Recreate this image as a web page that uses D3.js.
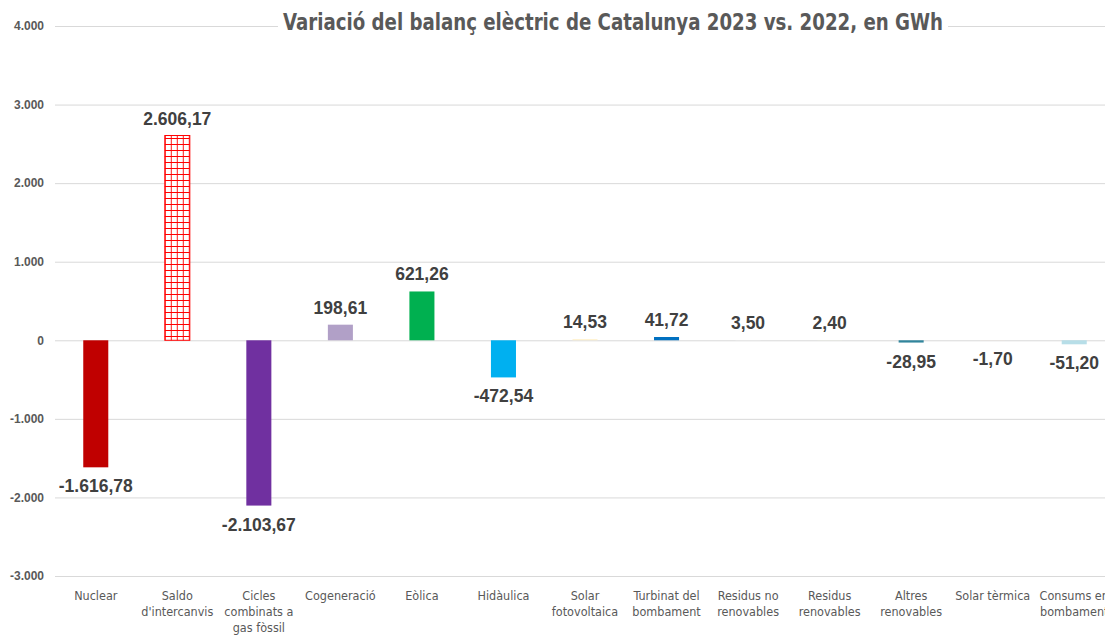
<!DOCTYPE html>
<html>
<head>
<meta charset="utf-8">
<style>
  body { margin: 0; background: #fff; }
  svg { display: block; }
</style>
</head>
<body>
<svg width="1105" height="636"></svg>
<script src="https://cdn.jsdelivr.net/npm/d3@7"></script>
<script>

// categories (line breaks as shown under the axis)
var categories = [
  "Nuclear",
  "Saldo\nd'intercanvis",
  "Cicles\ncombinats a\ngas fòssil",
  "Cogeneració",
  "Eòlica",
  "Hidàulica",
  "Solar\nfotovoltaica",
  "Turbinat del\nbombament",
  "Residus no\nrenovables",
  "Residus\nrenovables",
  "Altres\nrenovables",
  "Solar tèrmica",
  "Consums en\nbombament"
];

// variation 2023 vs 2022, GWh
var values = [-1616.78, 2606.17, -2103.67, 198.61, 621.26, -472.54, 14.53, 41.72, 3.50, 2.40, -28.95, -1.70, -51.20];

var colors = ["#C00000", "url(#grid)", "#7030A0", "#B1A0C7", "#00B050", "#00B0F0", "#FFF2CC",
              "#0070C0", "#F2F2F2", "#EBF1DE", "#31859C", "#FDE9D9", "#B7DEE8"];

var yTicks = [-3000, -2000, -1000, 0, 1000, 2000, 3000, 4000];

var title = "Variació del balanç elèctric de Catalunya 2023 vs. 2022, en GWh";

var svg = d3.select("svg"),
    width = +svg.attr("width"),
    height = +svg.attr("height");

var ca = d3.formatLocale({decimal: ",", thousands: ".", grouping: [3], currency: ["", " €"], minus: "-"});
var fmtVal = ca.format(",.2f"),
    fmtTick = ca.format(",d");

var narrow = "'DejaVu Sans Condensed', 'DejaVu Sans', sans-serif";

var x = d3.scaleBand()
    .domain(categories)
    .range([55, 1115])
    .paddingInner(0.693)
    .paddingOuter(0.3465);

var y = d3.scaleLinear()
    .domain([-3000, 4000])
    .range([576, 26]);

// red grid pattern for the exchange balance
var defs = svg.append("defs");
var pat = defs.append("pattern")
    .attr("id", "grid")
    .attr("patternUnits", "userSpaceOnUse")
    .attr("x", x(categories[1]))
    .attr("y", 0)
    .attr("width", 6)
    .attr("height", 6);
pat.append("rect").attr("width", 6).attr("height", 6).attr("fill", "#fff");
pat.append("path").attr("d", "M0,0V6M0,0H6").attr("stroke", "#FF0000").attr("stroke-width", 1.8);

// gridlines + y labels
var yAxis = svg.append("g")
    .attr("transform", "translate(55,0)")
    .call(d3.axisLeft(y).tickValues(yTicks).tickFormat(fmtTick).tickSize(-1060).tickPadding(11));
yAxis.select(".domain").remove();
yAxis.selectAll(".tick line").attr("stroke", "#D9D9D9").attr("stroke-width", 1);
yAxis.selectAll(".tick text")
    .attr("fill", "#595959")
    .attr("font-family", "Liberation Sans, Arial, sans-serif")
    .attr("font-size", 12)
    .attr("font-weight", "bold");

// bars
svg.selectAll(".bar")
    .data(values)
  .enter().append("rect")
    .attr("class", "bar")
    .attr("x", function(d, i) { return x(categories[i]); })
    .attr("width", x.bandwidth())
    .attr("y", function(d) { return y(Math.max(0, d)); })
    .attr("height", function(d) { return Math.abs(y(d) - y(0)); })
    .attr("fill", function(d, i) { return colors[i]; })
    .attr("stroke", function(d, i) { return i === 1 ? "#FF0000" : "none"; })
    .attr("stroke-width", 1);

// value labels
svg.selectAll(".val")
    .data(values)
  .enter().append("text")
    .attr("class", "val")
    .attr("x", function(d, i) { return x(categories[i]) + x.bandwidth() / 2; })
    .attr("y", function(d) { return d >= 0 ? y(d) - 11 : y(d) + 25; })
    .attr("text-anchor", "middle")
    .attr("font-family", "Liberation Sans, Arial, sans-serif")
    .attr("font-size", 17.5)
    .attr("font-weight", "bold")
    .attr("fill", "#404040")
    .text(function(d) { return fmtVal(d); });

// category labels
var cat = svg.selectAll(".cat")
    .data(categories)
  .enter().append("text")
    .attr("class", "cat")
    .attr("text-anchor", "middle")
    .attr("font-family", narrow)
    .attr("font-size", 12.5)
    .attr("fill", "#595959")
    .attr("transform", function(d) { return "translate(" + (x(d) + x.bandwidth() / 2) + ",600)"; });
cat.selectAll("tspan")
    .data(function(d) { return d.split("\n"); })
  .enter().append("tspan")
    .attr("x", 0)
    .attr("y", function(d, i) { return i * 16; })
    .text(function(d) { return d; });

// title with white box over the top gridline
var tg = svg.append("g");
tg.append("rect")
    .attr("x", 278)
    .attr("y", 8)
    .attr("width", 670)
    .attr("height", 30)
    .attr("fill", "#fff");
tg.append("text")
    .attr("x", 613)
    .attr("y", 30)
    .attr("text-anchor", "middle")
    .attr("font-family", narrow)
    .attr("font-size", 23)
    .attr("font-weight", "bold")
    .attr("fill", "#595959")
    .attr("textLength", 660)
    .attr("lengthAdjust", "spacingAndGlyphs")
    .text(title);

</script>
</body>
</html>
